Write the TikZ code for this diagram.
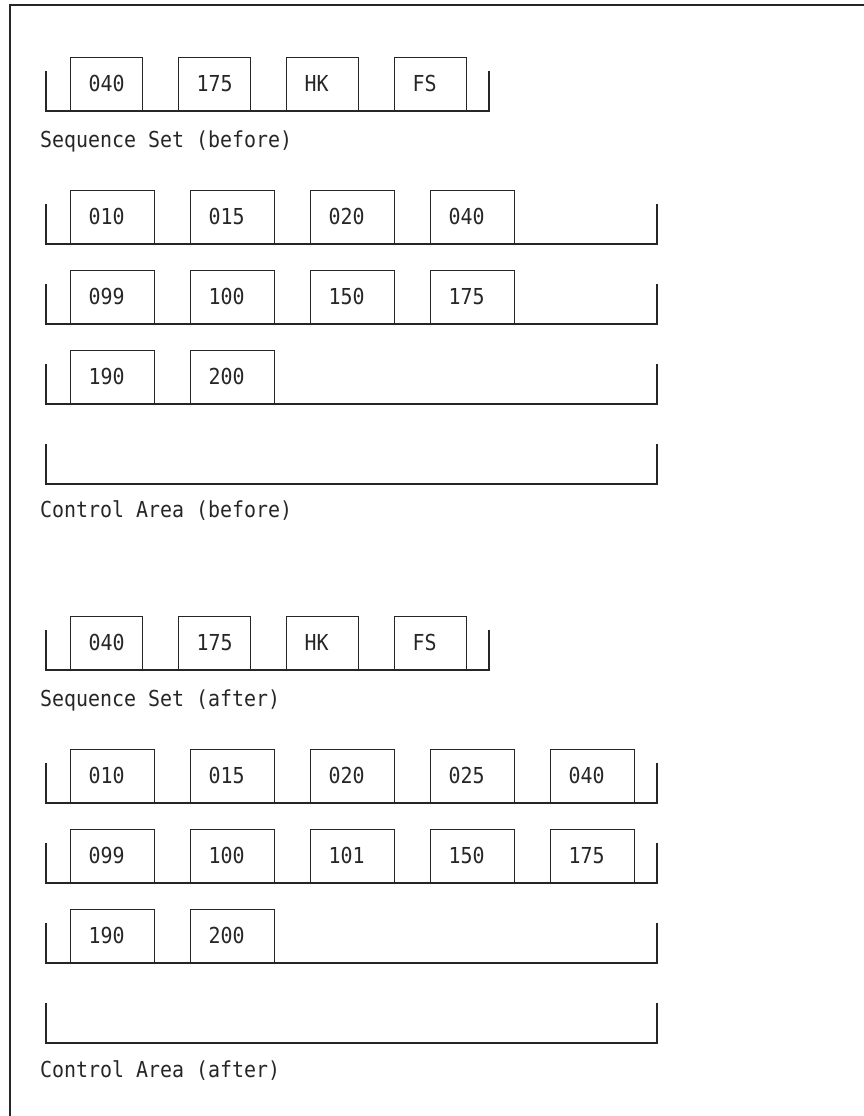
\documentclass[tikz,border=0pt]{standalone}
\usepackage{fontspec}
\setmonofont[FakeStretch=0.906]{DejaVu Sans Mono}
\usetikzlibrary{calc}
\tikzset{
  ln/.style={draw=black!85, line width=1.2pt},
  txt/.style={font=\ttfamily\fontsize{22}{26}\selectfont, text=black!85},
  rec/.style={ln, txt, inner sep=0pt, minimum height=53pt, anchor=south west, text height=16pt, text depth=0pt},
  sbox/.style={rec, minimum width=72pt},
  dbox/.style={rec, minimum width=84pt},
  captxt/.style={txt, inner sep=0pt, anchor=base west},
}
\begin{document}
\begin{tikzpicture}[x=1pt, y=-1pt]
\useasboundingbox (0,0) rectangle (864,1116);
% frame
\coordinate (fl) at (10,1116);
\coordinate (fc) at (10,5);
\coordinate (fr) at (864,5);
\draw[ln] (fl) -- (fc) -- (fr);

% ---------- BEFORE ----------
% sequence set (before)
\coordinate (sbL) at (46,111); \coordinate (sbR) at (489,111);
\draw[ln] ($(sbL)+(0,-40)$) -- (sbL) -- (sbR) -- ++(0,-40);
\foreach \t [count=\i] in {040,175,HK,FS}
  \node[sbox] (sb\i) at ({70+108*(\i-1)},111) {\makebox[36pt][l]{\t}};
\node[captxt] (lsb) at (40,147) {Sequence Set (before)};

% data row 1
\coordinate (b1L) at (46,244); \coordinate (b1R) at (657,244);
\draw[ln] ($(b1L)+(0,-40)$) -- (b1L) -- (b1R) -- ++(0,-40);
\foreach \t [count=\i] in {010,015,020,040}
  \node[dbox] (b1n\i) at ({70+120*(\i-1)},244) {\makebox[48pt][l]{\t}};
% data row 2
\coordinate (b2L) at (46,324); \coordinate (b2R) at (657,324);
\draw[ln] ($(b2L)+(0,-40)$) -- (b2L) -- (b2R) -- ++(0,-40);
\foreach \t [count=\i] in {099,100,150,175}
  \node[dbox] (b2n\i) at ({70+120*(\i-1)},324) {\makebox[48pt][l]{\t}};
% data row 3
\coordinate (b3L) at (46,404); \coordinate (b3R) at (657,404);
\draw[ln] ($(b3L)+(0,-40)$) -- (b3L) -- (b3R) -- ++(0,-40);
\foreach \t [count=\i] in {190,200}
  \node[dbox] (b3n\i) at ({70+120*(\i-1)},404) {\makebox[48pt][l]{\t}};
% control area
\coordinate (cbL) at (46,484); \coordinate (cbR) at (657,484);
\draw[ln] ($(cbL)+(0,-40)$) -- (cbL) -- (cbR) -- ++(0,-40);
\node[captxt] (lcb) at (40,517) {Control Area (before)};

% ---------- AFTER ----------
\coordinate (saL) at (46,670); \coordinate (saR) at (489,670);
\draw[ln] ($(saL)+(0,-40)$) -- (saL) -- (saR) -- ++(0,-40);
\foreach \t [count=\i] in {040,175,HK,FS}
  \node[sbox] (sa\i) at ({70+108*(\i-1)},670) {\makebox[36pt][l]{\t}};
\node[captxt] (lsa) at (40,706) {Sequence Set (after)};

\coordinate (a1L) at (46,803); \coordinate (a1R) at (657,803);
\draw[ln] ($(a1L)+(0,-40)$) -- (a1L) -- (a1R) -- ++(0,-40);
\foreach \t [count=\i] in {010,015,020,025,040}
  \node[dbox] (a1n\i) at ({70+120*(\i-1)},803) {\makebox[48pt][l]{\t}};

\coordinate (a2L) at (46,883); \coordinate (a2R) at (657,883);
\draw[ln] ($(a2L)+(0,-40)$) -- (a2L) -- (a2R) -- ++(0,-40);
\foreach \t [count=\i] in {099,100,101,150,175}
  \node[dbox] (a2n\i) at ({70+120*(\i-1)},883) {\makebox[48pt][l]{\t}};

\coordinate (a3L) at (46,963); \coordinate (a3R) at (657,963);
\draw[ln] ($(a3L)+(0,-40)$) -- (a3L) -- (a3R) -- ++(0,-40);
\foreach \t [count=\i] in {190,200}
  \node[dbox] (a3n\i) at ({70+120*(\i-1)},963) {\makebox[48pt][l]{\t}};

\coordinate (caL) at (46,1043); \coordinate (caR) at (657,1043);
\draw[ln] ($(caL)+(0,-40)$) -- (caL) -- (caR) -- ++(0,-40);
\node[captxt] (lca) at (40,1077) {Control Area (after)};
\end{tikzpicture}
\end{document}
